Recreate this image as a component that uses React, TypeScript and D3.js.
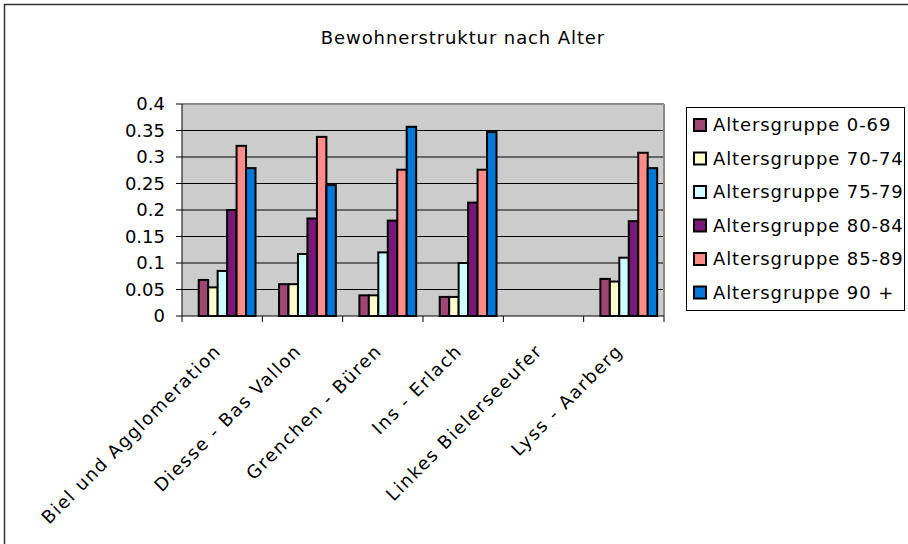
import React from "react";
import * as d3 from "d3";

const title = "Bewohnerstruktur nach Alter";
const categories = [
  "Biel und Agglomeration",
  "Diesse - Bas Vallon",
  "Grenchen - Büren",
  "Ins - Erlach",
  "Linkes Bielerseeufer",
  "Lyss - Aarberg",
];
const seriesNames = [
  "Altersgruppe 0-69",
  "Altersgruppe 70-74",
  "Altersgruppe 75-79",
  "Altersgruppe 80-84",
  "Altersgruppe 85-89",
  "Altersgruppe 90 +",
];
const age0_69 = [0.068, 0.06, 0.039, 0.036, null, 0.07];
const age70_74 = [0.054, 0.06, 0.039, 0.036, null, 0.065];
const age75_79 = [0.085, 0.117, 0.12, 0.1, null, 0.11];
const age80_84 = [0.2, 0.184, 0.18, 0.214, null, 0.179];
const age85_89 = [0.321, 0.338, 0.276, 0.276, null, 0.308];
const age90plus = [0.279, 0.247, 0.357, 0.347, null, 0.279];
const seriesValues = [age0_69, age70_74, age75_79, age80_84, age85_89, age90plus];
const yTicks = [0, 0.05, 0.1, 0.15, 0.2, 0.25, 0.3, 0.35, 0.4];
const colors = ["#A04672", "#FFFFCC", "#CCFFFF", "#781878", "#FF8C88", "#0078D7"];

const FONT = "'DejaVu Sans', sans-serif";

export default function App() {
  const left = 182, right = 664, top = 104, bottom = 316;
  const x0 = d3.scaleBand<string>().domain(categories).range([left, right]).padding(0);
  const bw = x0.bandwidth();
  const x1 = d3
    .scaleBand<string>()
    .domain(seriesNames)
    .range([bw * 0.208, bw * 0.915])
    .padding(0);
  const y = d3.scaleLinear().domain([0, 0.4]).range([bottom, top]);
  const fmt = (v: number) => (v === 0 ? "0" : String(+v.toFixed(2)));
  const tickXs = [...categories.map((c) => x0(c)!), right];

  return (
    <svg
      width={908}
      height={544}
      style={{ position: "absolute", left: 0, top: 0, background: "#fff" }}
      fontFamily={FONT}
    >
      <rect x={4.5} y={4.5} width={1000} height={1000} fill="#fff" stroke="#333" strokeWidth={1.5} />
      <text x={463} y={43.5} textAnchor="middle" fontSize={18} letterSpacing={0.9} fill="#000">
        {title}
      </text>

      {/* plot area */}
      <rect x={left} y={top} width={right - left} height={bottom - top} fill="#CCCCCC" />
      {yTicks.slice(1).map((t) => (
        <line key={t} x1={left} x2={right} y1={y(t)} y2={y(t)} stroke="#000" strokeWidth={1} />
      ))}
      <line x1={left} x2={right} y1={top} y2={top} stroke="#8a8a8a" strokeWidth={2} />
      <line x1={right} x2={right} y1={top} y2={bottom} stroke="#8a8a8a" strokeWidth={2} />

      {/* bars */}
      {seriesValues.map((vals, si) =>
        vals.map((v, ci) =>
          v == null ? null : (
            <rect
              key={`${si}-${ci}`}
              x={x0(categories[ci])! + x1(seriesNames[si])!}
              y={y(v)}
              width={x1.bandwidth()}
              height={y(0) - y(v)}
              fill={colors[si]}
              stroke="#000"
              strokeWidth={2}
            />
          )
        )
      )}

      {/* axes */}
      <line x1={left} x2={left} y1={top} y2={bottom} stroke="#000" strokeWidth={1} />
      <line x1={left} x2={right} y1={bottom} y2={bottom} stroke="#000" strokeWidth={1} />
      {yTicks.map((t) => (
        <g key={t}>
          <line x1={left - 6} x2={left} y1={y(t)} y2={y(t)} stroke="#000" />
          <text x={165} y={y(t)} dy="0.36em" textAnchor="end" fontSize={18} fill="#000">
            {fmt(t)}
          </text>
        </g>
      ))}
      {tickXs.map((tx, i) => (
        <line key={i} x1={tx} x2={tx} y1={bottom} y2={bottom + 6} stroke="#000" />
      ))}
      {categories.map((c) => (
        <text
          key={c}
          transform={`translate(${x0(c)! + bw / 2},352) rotate(-45)`}
          textAnchor="end"
          fontSize={18}
          letterSpacing={1.5}
          fill="#000"
        >
          {c}
        </text>
      ))}

      {/* legend */}
      <rect x={686.5} y={107.5} width={218} height={203} fill="#fff" stroke="#000" strokeWidth={1} />
      {seriesNames.map((s, i) => {
        const cy = 125 + i * 33.5;
        return (
          <g key={s}>
            <rect x={694} y={cy - 6} width={12} height={12} fill={colors[i]} stroke="#000" strokeWidth={2} />
            <text x={713} y={cy} dy="0.36em" fontSize={18} letterSpacing={0.9} fill="#000">
              {s}
            </text>
          </g>
        );
      })}
    </svg>
  );
}
